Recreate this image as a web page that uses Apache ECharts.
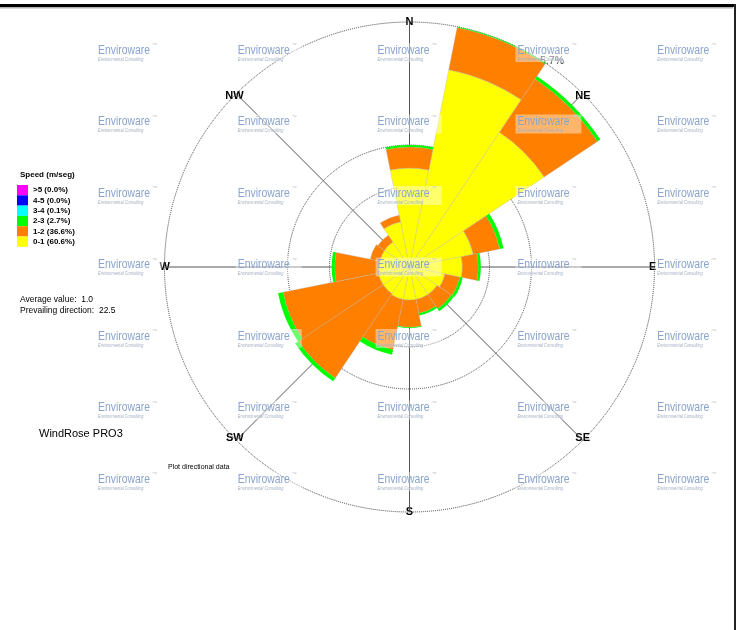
<!DOCTYPE html>
<html>
<head>
<meta charset="utf-8">
<script src="https://cdn.jsdelivr.net/npm/echarts@6/dist/echarts.min.js"></script>
<style>
html,body{margin:0;padding:0;background:#fff;}
#chart{width:737px;height:630px;}
</style>
</head>
<body>
<div id="chart"></div>
<script>
// ---- data ----
const directions = ['N','NNE','NE','ENE','E','ESE','SE','SSE','S','SSW','SW','WSW','W','WNW','NW','NNW'];
const cardinalLabels = ['N','E','S','W'];
const diagonalLabels = ['NE','SE','SW','NW'];
const speedClasses = ['0-1 (60.6%)','1-2 (36.6%)','2-3 (2.7%)','3-4 (0.1%)','4-5 (0.0%)','>5 (0.0%)'];
const legendOrder = ['>5 (0.0%)','4-5 (0.0%)','3-4 (0.1%)','2-3 (2.7%)','1-2 (36.6%)','0-1 (60.6%)'];
// frequency (%) per direction, per speed class (stacked)
const speed0to1 = [2.30, 4.68, 3.77, 1.51, 1.23, 0.84, 0.77, 0.77, 0.77, 0.77, 0.74, 0.74, 0.72, 0.70, 0.70, 1.07];
const speed1to2 = [0.49, 1.00, 1.49, 0.63, 0.37, 0.35, 0.40, 0.33, 0.63, 1.19, 2.37, 2.26, 1.02, 0.23, 0.19, 0.16];
const speed2to3 = [0.05, 0.03, 0.08, 0.09, 0.06, 0.07, 0.07, 0.05, 0.02, 0.12, 0.09, 0.12, 0.07, 0, 0, 0];
const speed3to4 = [0, 0, 0, 0, 0, 0, 0, 0, 0, 0, 0, 0, 0, 0, 0, 0];
const speed4to5 = [0, 0, 0, 0, 0, 0, 0, 0, 0, 0, 0, 0, 0, 0, 0, 0];
const speedAbove5 = [0, 0, 0, 0, 0, 0, 0, 0, 0, 0, 0, 0, 0, 0, 0, 0];
const radiusMax = 5.7;
const radiusMaxLabel = '5.7%';
const averageText = 'Average value:  1.0';
const prevailingText = 'Prevailing direction:  22.5';

// ---- styling ----
const FONT = 'Liberation Sans, Arial, sans-serif';
const CX = 409.5, CY = 267, R = 245;
const colors = ['#FFFF00', '#FF8000', '#00FF00', '#00FFFF', '#0000FF', '#FF00FF'];
const seriesValues = [speed0to1, speed1to2, speed2to3, speed3to4, speed4to5, speedAbove5];

const chart = echarts.init(document.getElementById('chart'), null, {renderer: 'canvas'});

const hiddenAngle = {
  axisLine: {show: false}, axisTick: {show: false}, axisLabel: {show: false},
  splitLine: {show: false}, splitArea: {show: false}
};
const ringStyle = {color: '#444', type: 'dotted', width: 1};

const graphics = [];
// frame
graphics.push({type: 'rect', shape: {x: 0, y: 4, width: 736, height: 3}, style: {fill: '#000'}, z: 60});
graphics.push({type: 'rect', shape: {x: 0, y: 7, width: 733, height: 1.5}, style: {fill: '#b0b0b0'}, z: 60});
graphics.push({type: 'rect', shape: {x: 734, y: 4, width: 2, height: 626}, style: {fill: '#222'}, z: 60});
// watermark tiles
for (let r = 0; r < 7; r++) {
  for (let c = 0; c < 5; c++) {
    const x = 98 + c * 139.8, y = 50 + r * 71.5;
    graphics.push({type: 'rect', shape: {x: x - 2, y: y - 7, width: 66, height: 19},
      style: {fill: 'rgba(255,255,255,0.42)'}, z: 50, silent: true});
    graphics.push({type: 'text', x: x, y: y, scaleX: 0.8, z: 51, silent: true,
      style: {text: 'Enviroware', x: 0, y: 0, verticalAlign: 'middle', font: '13px ' + FONT, fill: '#8aa4cc'}});
    graphics.push({type: 'text', x: x, y: y + 9.5, scaleX: 0.8, z: 51, silent: true,
      style: {text: 'Environmental Consulting', x: 0, y: 0, verticalAlign: 'middle', font: 'italic 5px ' + FONT, fill: '#a2b0c0'}});
    graphics.push({type: 'text', x: x + 54, y: y - 5, z: 51, silent: true,
      style: {text: '~', x: 0, y: 0, verticalAlign: 'middle', font: '9px ' + FONT, fill: '#c8ccd4'}});
  }
}
// texts
graphics.push({type: 'text', z: 10, style: {text: 'Speed (m/seg)', x: 20, y: 175, verticalAlign: 'middle', font: 'bold 8px ' + FONT, fill: '#000'}});
graphics.push({type: 'text', z: 10, style: {text: averageText, x: 20, y: 300, verticalAlign: 'middle', font: '8.5px ' + FONT, fill: '#000'}});
graphics.push({type: 'text', z: 10, style: {text: prevailingText, x: 20, y: 311, verticalAlign: 'middle', font: '8.5px ' + FONT, fill: '#000'}});
graphics.push({type: 'text', z: 10, style: {text: 'WindRose PRO3', x: 39, y: 434, verticalAlign: 'middle', font: '11px ' + FONT, fill: '#000'}});
graphics.push({type: 'text', z: 10, style: {text: 'Plot directional data', x: 168, y: 467, verticalAlign: 'middle', font: '7px ' + FONT, fill: '#000'}});
graphics.push({type: 'text', z: 1, style: {text: radiusMaxLabel, x: 552, y: 61, align: 'center', verticalAlign: 'middle', font: '10.5px ' + FONT, fill: '#333'}});

const option = {
  animation: false,
  backgroundColor: '#fff',
  polar: [
    {center: [CX, CY], radius: R},
    {center: [CX, CY], radius: R},
    {center: [CX, CY], radius: R},
    {center: [CX, CY], radius: 122},
    {center: [CX, CY], radius: 80}
  ],
  angleAxis: [
    Object.assign({polarIndex: 0, type: 'category', data: directions, startAngle: 90 + 11.25, clockwise: true}, hiddenAngle),
    {polarIndex: 1, type: 'value', min: 0, max: 360, interval: 90, startAngle: 90, clockwise: true,
      axisLine: {show: true, lineStyle: ringStyle},
      axisTick: {show: false},
      axisLabel: {show: true, margin: -5.5, color: '#000', fontSize: 11, fontWeight: 'bold', fontFamily: FONT,
        formatter: v => cardinalLabels[Math.round(v / 90)] || ''},
      splitLine: {show: true, lineStyle: {color: '#555', width: 1}},
      splitArea: {show: false}},
    {polarIndex: 2, type: 'value', min: 0, max: 360, interval: 90, startAngle: 45, clockwise: true,
      axisLine: {show: false},
      axisTick: {show: false},
      axisLabel: {show: true, margin: -10.5, color: '#000', fontSize: 11, fontWeight: 'bold', fontFamily: FONT,
        formatter: v => diagonalLabels[Math.round(v / 90)] || ''},
      splitLine: {show: true, lineStyle: {color: '#555', width: 1}},
      splitArea: {show: false}},
    {polarIndex: 3, type: 'value', min: 0, max: 360, startAngle: 90,
      axisLine: {show: true, lineStyle: ringStyle}, axisTick: {show: false}, axisLabel: {show: false},
      splitLine: {show: false}, splitArea: {show: false}},
    {polarIndex: 4, type: 'value', min: 0, max: 360, startAngle: 90,
      axisLine: {show: true, lineStyle: ringStyle}, axisTick: {show: false}, axisLabel: {show: false},
      splitLine: {show: false}, splitArea: {show: false}}
  ],
  radiusAxis: [
    {polarIndex: 0, type: 'value', min: 0, max: radiusMax, show: false},
    {polarIndex: 1, type: 'value', min: 0, max: 1, show: false},
    {polarIndex: 2, type: 'value', min: 0, max: 1, show: false},
    {polarIndex: 3, type: 'value', min: 0, max: 1, show: false},
    {polarIndex: 4, type: 'value', min: 0, max: 1, show: false}
  ],
  legend: {
    orient: 'vertical', left: 17, top: 185, padding: 0, itemGap: 0,
    itemWidth: 11, itemHeight: 10.3, icon: 'rect', selectedMode: false,
    data: legendOrder,
    itemStyle: {borderWidth: 0},
    textStyle: {fontSize: 8, fontWeight: 'bold', color: '#000', fontFamily: FONT, padding: [0, 0, 0, 0]}
  },
  graphic: {elements: graphics},
  series: speedClasses.map((name, i) => ({
    type: 'bar',
    name: name,
    coordinateSystem: 'polar',
    polarIndex: 0,
    stack: 'speed',
    barCategoryGap: '0%',
    data: seriesValues[i],
    color: colors[i],
    itemStyle: i < 2
      ? {color: colors[i], borderColor: 'rgba(175,175,175,0.55)', borderWidth: 0.6}
      : {color: colors[i], borderWidth: 0},
    emphasis: {disabled: true},
    z: 2
  }))
};
chart.setOption(option);
</script>
</body>
</html>
